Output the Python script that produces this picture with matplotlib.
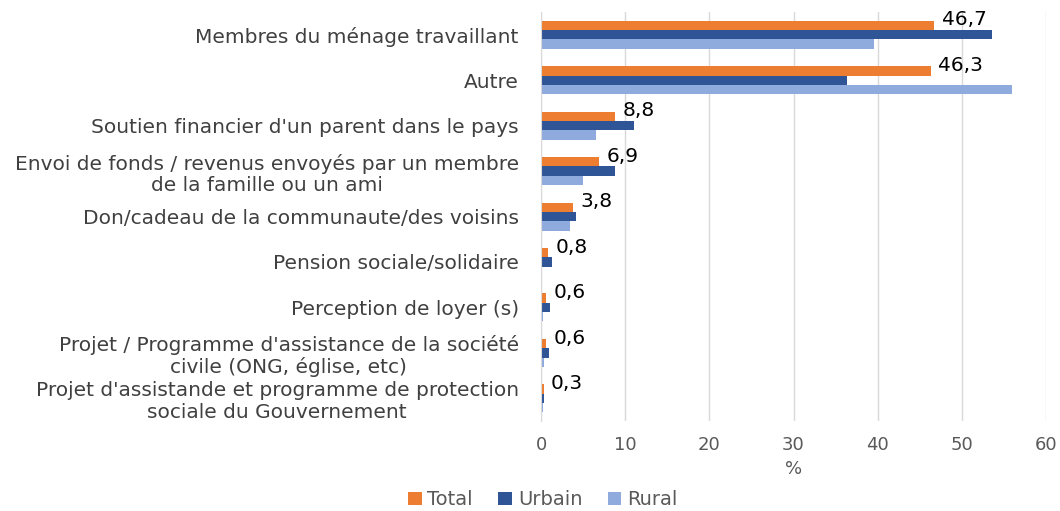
import matplotlib
matplotlib.use("Agg")
import matplotlib.pyplot as plt
import numpy as np

categories = [
    "Membres du ménage travaillant",
    "Autre",
    "Soutien financier d'un parent dans le pays",
    "Envoi de fonds / revenus envoyés par un membre\nde la famille ou un ami",
    "Don/cadeau de la communaute/des voisins",
    "Pension sociale/solidaire",
    "Perception de loyer (s)",
    "Projet / Programme d'assistance de la société\ncivile (ONG, église, etc)",
    "Projet d'assistande et programme de protection\nsociale du Gouvernement",
]
total = [46.7, 46.3, 8.8, 6.9, 3.8, 0.8, 0.6, 0.6, 0.3]
urbain = [53.6, 36.4, 11.0, 8.8, 4.1, 1.3, 1.1, 0.9, 0.4]
rural = [39.6, 56.0, 6.5, 5.0, 3.4, 0.15, 0.2, 0.4, 0.2]
total_labels = ["46,7", "46,3", "8,8", "6,9", "3,8", "0,8", "0,6", "0,6", "0,3"]
xticks = [0, 10, 20, 30, 40, 50, 60]

c_total = "#ED7D31"
c_urb = "#2F5597"
c_rur = "#8FAADC"
grey = "#595959"

plt.rcParams['font.family'] = ['DejaVu Sans']
FS = 14.5
fig = plt.figure(figsize=(10.6, 5.11), dpi=100)
ax = fig.add_axes([0.5104, 0.176, 0.4764, 0.8005])

n = len(categories)
y = np.arange(n)
h = 0.205
ax.barh(y - h, total, height=h, color=c_total, label="Total")
ax.barh(y, urbain, height=h, color=c_urb, label="Urbain")
ax.barh(y + h, rural, height=h, color=c_rur, label="Rural")

for yi, v, lab in zip(y, total, total_labels):
    ax.text(v + 0.9, yi - h - 0.12, lab, va="center", ha="left", fontsize=14.5,
            color="black")

ax.set_ylim(n - 0.5, -0.5)
ax.set_xlim(0, 60)
ax.set_xticks(xticks)
ax.set_xticklabels([str(t) for t in xticks], fontsize=13, color=grey)
ax.set_yticks(y)
ax.set_yticklabels(categories, fontsize=FS, color="#404040", multialignment="center",
                   linespacing=1.15)
ax.tick_params(axis="y", length=0, pad=16)
ax.tick_params(axis="x", length=0, pad=11)
ax.grid(axis="x", color="#D9D9D9", linewidth=1)
ax.set_axisbelow(True)
for s in ["top", "right", "bottom"]:
    ax.spines[s].set_visible(False)
ax.spines["left"].set_color("#D9D9D9")
ax.set_xlabel("%", fontsize=13, color=grey, labelpad=4)

leg = fig.legend(loc="lower center", bbox_to_anchor=(0.512, -0.031), ncol=3, frameon=False,
                 prop={"size": 14},
                 handlelength=0.7, handleheight=0.7, columnspacing=1.3, handletextpad=0.3)
for t in leg.get_texts():
    t.set_color(grey)

fig.savefig("out.png", dpi=100)
